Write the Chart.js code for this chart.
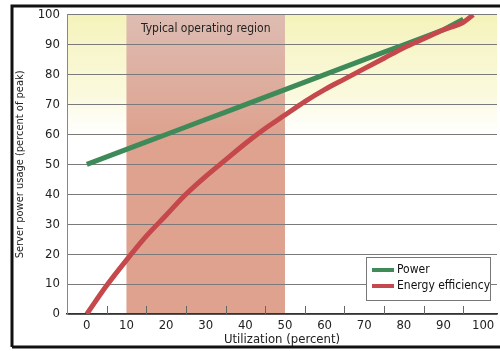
<!DOCTYPE html>
<html>
<head>
<meta charset="utf-8">
<script src="https://cdn.jsdelivr.net/npm/chart.js@4"></script>
<style>
  html, body { margin: 0; padding: 0; background: #fff; }
  #wrap { width: 500px; height: 351px; }
</style>
</head>
<body>
<div id="wrap"><canvas id="chart" width="500" height="351"></canvas></div>
<script>
var FONT = '"DejaVu Sans Condensed", "Liberation Sans", sans-serif';

var utilization = [0, 5, 10, 15, 20, 25, 30, 35, 40, 45, 50, 55, 60, 65, 70, 75, 80, 85, 90, 95, 97.5];
var power = [50, 52.5, 55, 57.5, 60, 62.5, 65, 67.5, 70, 72.5, 75, 77.5, 80, 82.5, 85, 87.5, 90, 92.5, 95, 98.5, null];
var efficiency = [0, 9.5, 18, 26, 33, 40, 46, 51.5, 57, 62, 66.5, 71, 75, 78.5, 82, 85.5, 89, 92, 95, 97.5, 100];
var xTicks = [0, 10, 20, 30, 40, 50, 60, 70, 80, 90, 100];
var xMinorTicks = [5, 15, 25, 35, 45, 55, 65, 75, 85, 95];
var yTicks = [0, 10, 20, 30, 40, 50, 60, 70, 80, 90, 100];
var region = [10, 50];
var regionLabel = 'Typical operating region';

function pts(ys) {
  return utilization.map(function (x, i) { return { x: x, y: ys[i] }; });
}

var backdrop = {
  id: 'backdrop',
  beforeDraw: function (chart) {
    var ctx = chart.ctx, a = chart.chartArea;
    var xs = chart.scales.x, ys = chart.scales.y;
    ctx.save();
    // yellow wash at the top of the plot
    var g = ctx.createLinearGradient(0, a.top, 0, ys.getPixelForValue(55));
    g.addColorStop(0, 'rgba(238,234,140,0.6)');
    g.addColorStop(0.6, 'rgba(245,242,180,0.45)');
    g.addColorStop(1, 'rgba(255,255,255,0)');
    ctx.fillStyle = g;
    ctx.fillRect(a.left, a.top, a.right - a.left, a.bottom - a.top);
    // shaded region
    var x0 = xs.getPixelForValue(region[0]), x1 = xs.getPixelForValue(region[1]);
    var rg = ctx.createLinearGradient(0, a.top, 0, ys.getPixelForValue(60));
    rg.addColorStop(0, 'rgb(221,188,178)');
    rg.addColorStop(1, 'rgb(222,162,143)');
    ctx.fillStyle = rg;
    ctx.fillRect(x0, a.top, x1 - x0, a.bottom - a.top);
    ctx.restore();
  },
  afterDatasetsDraw: function (chart) {
    var ctx = chart.ctx, a = chart.chartArea;
    var xs = chart.scales.x;
    ctx.save();
    // label of the region
    ctx.fillStyle = '#222';
    ctx.font = '12px ' + FONT;
    ctx.textAlign = 'center';
    ctx.textBaseline = 'middle';
    ctx.fillText(regionLabel, (xs.getPixelForValue(region[0]) + xs.getPixelForValue(region[1])) / 2, a.top + 14);
    // minor ticks on the x axis
    ctx.strokeStyle = '#666';
    ctx.lineWidth = 1;
    xMinorTicks.forEach(function (v) {
      var px = Math.round(xs.getPixelForValue(v)) + 0.5;
      ctx.beginPath();
      ctx.moveTo(px, a.bottom);
      ctx.lineTo(px, a.bottom - 8);
      ctx.stroke();
    });
    // legend
    var lx = 366, ly = 257, lw = 124, lh = 43;
    ctx.fillStyle = '#fff';
    ctx.fillRect(lx, ly, lw, lh);
    ctx.strokeStyle = '#777';
    ctx.strokeRect(lx + 0.5, ly + 0.5, lw, lh);
    ctx.textAlign = 'left';
    ctx.font = '12px ' + FONT;
    chart.data.datasets.forEach(function (ds, i) {
      var yy = ly + 13 + i * 16;
      ctx.fillStyle = ds.borderColor;
      ctx.fillRect(lx + 6, yy - 2, 22, 4);
      ctx.fillStyle = '#111';
      ctx.fillText(ds.label, lx + 31, yy);
    });
    ctx.restore();
  },
  afterDraw: function (chart) {
    var ctx = chart.ctx;
    ctx.save();
    ctx.strokeStyle = '#111';
    ctx.lineWidth = 3;
    ctx.beginPath();
    ctx.moveTo(12, 347);
    ctx.lineTo(12, 6);
    ctx.lineTo(500, 6);
    ctx.moveTo(12, 347);
    ctx.lineTo(500, 347);
    ctx.stroke();
    ctx.restore();
  }
};

new Chart(document.getElementById('chart'), {
  type: 'line',
  data: {
    datasets: [
      { label: 'Power', data: pts(power), borderColor: '#3e8a58', borderWidth: 5, pointRadius: 0, tension: 0, spanGaps: false, order: 2 },
      { label: 'Energy efficiency', data: pts(efficiency), borderColor: '#c4484c', borderWidth: 5, pointRadius: 0, cubicInterpolationMode: 'monotone', order: 1 }
    ]
  },
  options: {
    responsive: false,
    animation: false,
    layout: { padding: { top: 14, right: 3, left: 12, bottom: 0 } },
    plugins: { legend: { display: false }, tooltip: { enabled: false } },
    scales: {
      x: {
        type: 'linear', min: -5, max: 103.5,
        afterBuildTicks: function (s) { s.ticks = xTicks.map(function (v) { return { value: v }; }); },
        afterFit: function (s) { s.height = 37; },
        grid: { display: false, drawTicks: false },
        border: { display: true, color: '#333', width: 1.5 },
        ticks: { color: '#222', padding: 4, font: { family: FONT, size: 13 }, maxRotation: 0 },
        title: { display: true, text: 'Utilization (percent)', color: '#222', font: { family: FONT, size: 13 }, padding: { top: 0, bottom: 4 } }
      },
      y: {
        min: 0, max: 100,
        afterBuildTicks: function (s) { s.ticks = yTicks.map(function (v) { return { value: v }; }); },
        afterFit: function (s) { s.width = 55; },
        grid: { color: '#7a7a7a', lineWidth: 1, drawTicks: false },
        border: { display: true, color: '#888', width: 1 },
        ticks: { color: '#222', padding: 7, font: { family: FONT, size: 13 } },
        title: { display: true, text: 'Server power usage (percent of peak)', color: '#222', font: { family: FONT, size: 11 }, padding: { top: 2, bottom: 6 } }
      }
    }
  },
  plugins: [backdrop]
});
</script>
</body>
</html>
